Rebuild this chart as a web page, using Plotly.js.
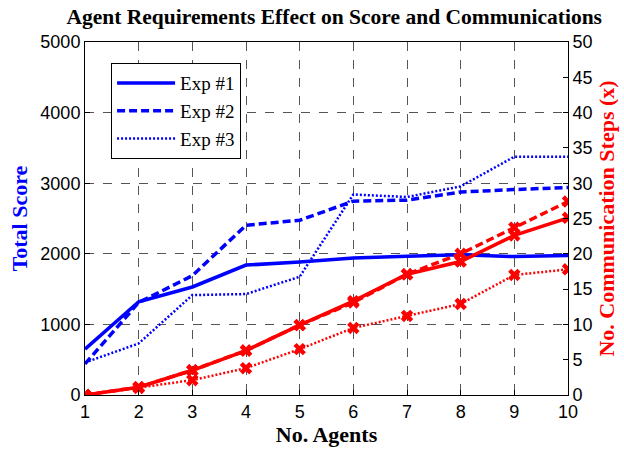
<!DOCTYPE html>
<html>
<head>
<meta charset="utf-8">
<script src="https://cdn.plot.ly/plotly-3.0.1.min.js"></script>
<style>html,body{margin:0;padding:0;background:#fff;}#chart{width:624px;height:450px;}</style>
</head>
<body>
<div id="chart"></div>
<script>
const agents = [1, 2, 3, 4, 5, 6, 7, 8, 9, 10];
const scoreExp1 = [650, 1320, 1530, 1840, 1885, 1940, 1965, 1985, 1960, 1975];
const scoreExp2 = [440, 1310, 1690, 2405, 2475, 2745, 2760, 2875, 2910, 2940];
const scoreExp3 = [460, 730, 1415, 1430, 1675, 2840, 2805, 2955, 3375, 3375];
const commExp1 = [0, 1.1, 3.5, 6.3, 9.9, 13.3, 17.1, 18.9, 22.6, 25.1];
const commExp2 = [0, 1.1, 3.5, 6.3, 9.9, 13.1, 17.1, 20.0, 23.7, 27.4];
const commExp3 = [0, 1.0, 2.1, 3.8, 6.5, 9.5, 11.2, 12.9, 17.0, 17.8];
const legendNames = ['Exp #1', 'Exp #2', 'Exp #3'];

const blue = '#0000ff', red = '#ff0000';
const styles = [
  {dash: 'solid', width: 3.5},
  {dash: '8px,4px', width: 3.5},
  {dash: '2px,2px', width: 2.5}
];
const scores = [scoreExp1, scoreExp2, scoreExp3];
const comms = [commExp1, commExp2, commExp3];

const traces = [];
scores.forEach((s, i) => {
  traces.push({x: agents, y: s, name: legendNames[i], type: 'scatter', mode: 'lines',
    line: {color: blue, dash: styles[i].dash, width: styles[i].width}, yaxis: 'y'});
});
comms.forEach((c, i) => {
  traces.push({x: agents, y: c, name: legendNames[i], type: 'scatter', mode: 'lines+markers', showlegend: false,
    line: {color: red, dash: styles[i].dash, width: styles[i].width},
    marker: {symbol: 'x', size: 11, color: red}, yaxis: 'y2'});
});

const serif = 'Liberation Serif, Times New Roman, serif';
const tickFont = {family: 'Liberation Sans, Arial, sans-serif', size: 18, color: '#000'};
const layout = {
  width: 624, height: 450,
  margin: {l: 85, r: 56, t: 42, b: 55},
  paper_bgcolor: '#fff', plot_bgcolor: '#fff',
  title: {text: '<b>Agent Requirements Effect on Score and Communications</b>',
    font: {family: serif, size: 21.5, color: '#000'},
    x: 0.516, xanchor: 'center', y: 0.963, yanchor: 'middle', xref: 'paper'},
  xaxis: {range: [1, 10], dtick: 1, tick0: 1, showgrid: true, gridcolor: '#555', griddash: 'dash', gridwidth: 1,
    showline: true, linecolor: '#000', linewidth: 1, mirror: true, ticks: 'inside', ticklen: 5, tickcolor: '#000',
    zeroline: false, tickfont: tickFont,
    title: {text: '<b>No. Agents</b>', font: {family: serif, size: 22, color: '#000'}, standoff: 6}},
  yaxis: {range: [0, 5000], dtick: 1000, showgrid: true, gridcolor: '#555', griddash: 'dash', gridwidth: 1,
    showline: true, linecolor: '#000', linewidth: 1, ticks: 'inside', ticklen: 5, tickcolor: '#000',
    zeroline: false, tickfont: tickFont,
    title: {text: '<b>Total Score</b>', font: {family: serif, size: 22, color: blue}, standoff: 6}},
  yaxis2: {range: [0, 50], dtick: 5, overlaying: 'y', side: 'right', showgrid: false,
    showline: true, linecolor: '#000', linewidth: 1, ticks: 'inside', ticklen: 5, tickcolor: '#000',
    zeroline: false, tickfont: tickFont,
    title: {text: '<b>No. Communication Steps (x)</b>', font: {family: serif, size: 22, color: red}, standoff: 6}},
  legend: {x: 0.054, y: 0.94, xanchor: 'left', yanchor: 'top', bgcolor: '#fff', bordercolor: '#000', borderwidth: 1,
    font: {family: serif, size: 19, color: '#000'}, itemwidth: 58, tracegroupgap: 0},
  showlegend: true
};
Plotly.newPlot('chart', traces, layout, {displayModeBar: false, staticPlot: true});
</script>
</body>
</html>
